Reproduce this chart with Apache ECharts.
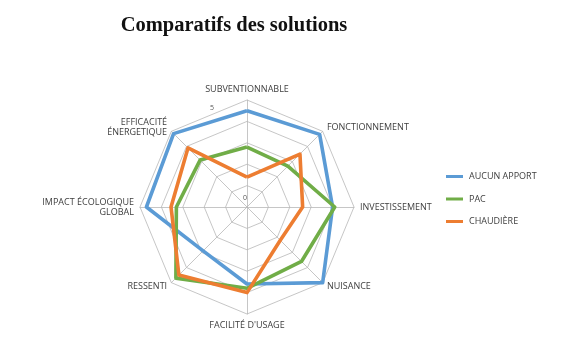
<!DOCTYPE html>
<html>
<head>
<meta charset="utf-8">
<script src="https://cdn.jsdelivr.net/npm/echarts@6/dist/echarts.min.js"></script>
<style>html,body{margin:0;padding:0;background:#fff;}#c{width:574px;height:345px;}</style>
</head>
<body>
<div id="c"></div>
<script>
// Indicators listed counterclockwise starting from the top
const indicators = ['SUBVENTIONNABLE', 'EFFICACITÉ\nÉNERGETIQUE', 'IMPACT ÉCOLOGIQUE\nGLOBAL', 'RESSENTI', "FACILITÉ D'USAGE", 'NUISANCE', 'INVESTISSEMENT', 'FONCTIONNEMENT'];
const seriesNames = ['AUCUN APPORT', 'PAC', 'CHAUDIÈRE'];
const aucunApport = [4.5, 4.85, 4.7, 2.9, 3.6, 5.0, 4.0, 4.8];
const pac = [2.8, 3.1, 3.3, 4.7, 3.8, 3.6, 4.1, 2.7];
const chaudiere = [1.4, 3.9, 3.55, 4.5, 4.0, 2.2, 2.6, 3.5];
const tickLabels = ['0', '5'];
const maxValue = 5;

const colors = ['#5B9BD5', '#70AD47', '#ED7D31'];
const chart = echarts.init(document.getElementById('c'));
chart.setOption({
  animation: false,
  title: {
    text: 'Comparatifs des solutions',
    left: 229, top: 10, textAlign: 'center',
    textStyle: { fontFamily: 'Liberation Serif', fontWeight: 'bold', fontSize: 20.5, color: '#111' }
  },
  legend: {
    orient: 'vertical', left: 441, top: 167,
    data: seriesNames,
    icon: 'rect', itemWidth: 17, itemHeight: 3, itemGap: 13.5,
    textStyle: { fontFamily: 'Open Sans', fontSize: 9, color: '#404040', padding: [0, 0, 0, 1] }
  },
  radar: {
    center: [247, 207], radius: 107, shape: 'polygon', startAngle: 90,
    splitNumber: 5,
    indicator: indicators.map(n => ({ name: n, min: 0, max: maxValue })),
    axisName: { fontFamily: 'Open Sans', fontSize: 9, color: '#404040', lineHeight: 10 },
    nameGap: 6,
    splitLine: { lineStyle: { color: '#b8b8b8', width: 0.8 } },
    axisLine: { lineStyle: { color: '#b8b8b8', width: 0.8 } },
    splitArea: { show: false },
    axisLabel: { show: false },
    axisTick: { show: false }
  },
  graphic: [
    { type: 'text', left: 243, top: 194, style: { text: tickLabels[0], fontSize: 7, fill: '#555', fontFamily: 'Open Sans' } },
    { type: 'text', left: 210, top: 104, style: { text: tickLabels[1], fontSize: 7, fill: '#555', fontFamily: 'Open Sans' } }
  ],
  series: [{
    type: 'radar',
    symbol: 'none',
    data: [
      { name: seriesNames[0], value: aucunApport, lineStyle: { color: colors[0], width: 3.6 }, itemStyle: { color: colors[0] } },
      { name: seriesNames[1], value: pac, lineStyle: { color: colors[1], width: 3.6 }, itemStyle: { color: colors[1] } },
      { name: seriesNames[2], value: chaudiere, lineStyle: { color: colors[2], width: 3.6 }, itemStyle: { color: colors[2] } }
    ]
  }]
});
</script>
</body>
</html>
